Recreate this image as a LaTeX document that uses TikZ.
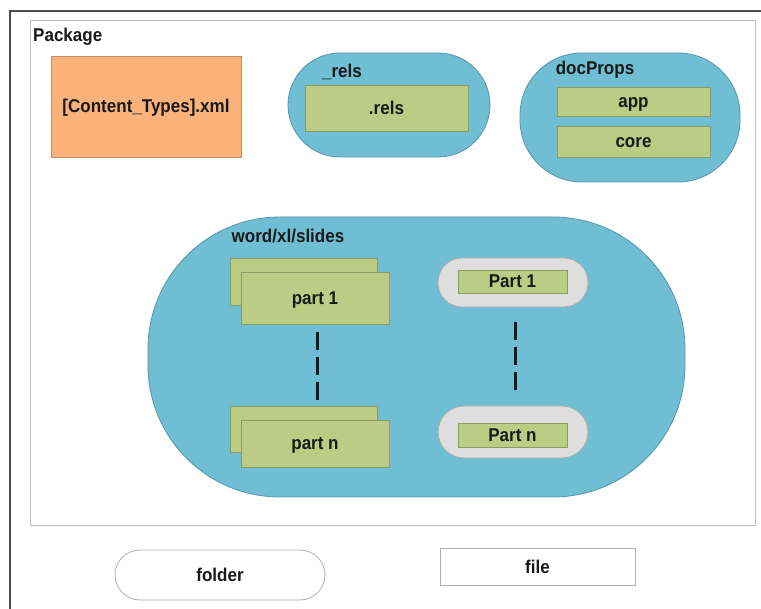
\documentclass[tikz,border=0pt]{standalone}
\usepackage{fontspec}
\setmainfont[FakeStretch=0.92]{Liberation Sans}
\definecolor{folderblue}{RGB}{112,190,211}
\definecolor{folderedge}{RGB}{84,150,170}
\definecolor{filegreen}{RGB}{187,204,133}
\definecolor{fileedge}{RGB}{140,156,96}
\definecolor{ctorange}{RGB}{248,178,122}
\definecolor{ctedge}{RGB}{200,140,95}
\definecolor{partgray}{RGB}{222,222,222}
\definecolor{partedge}{RGB}{170,170,170}
\definecolor{inktext}{RGB}{25,25,25}
\tikzset{
  box/.style={outer sep=0pt, inner sep=0pt, text=inktext, text height=13pt, text depth=0pt},
  folderbox/.style={box, draw=folderedge, fill=folderblue, line width=0.8pt},
  filebox/.style={box, draw=fileedge, fill=filegreen, line width=0.8pt},
  seqbox/.style={box, draw=partedge, fill=partgray, line width=0.8pt},
  legendbox/.style={box, draw=black!30, fill=white, line width=0.8pt},
  caption/.style={inner sep=0pt, text=inktext},
  dashline/.style={line width=3pt, black!90, dash pattern=on 18.5pt off 6.5pt}
}
\begin{document}
\begin{tikzpicture}[x=1pt, y=-1pt, font=\fontsize{18.5}{21}\selectfont\bfseries]
\useasboundingbox (0,0) rectangle (761,609);
\fill[white] (0,0) rectangle (761,609);
% outer frame
\draw[line width=2pt, black!70] (10,615) -- (10,11) -- (766,11);

% package area
\node[box, draw=black!25, line width=0.8pt, minimum width=725pt, minimum height=505pt, anchor=north west] (package) at (30,20) {};
\node[caption, anchor=west] (pkglabel) at (33,37) {Package};

% [Content_Types].xml
\node[box, draw=ctedge, fill=ctorange, line width=0.8pt, minimum width=190pt, minimum height=101pt] (ct) at (146,106.5) {[Content\_Types].xml};

% _rels folder
\node[folderbox, minimum width=202pt, minimum height=104pt, rounded corners=52pt] (rels) at (389,105) {};
\node[caption] (relslabel) at (342,72) {\_rels};
\node[filebox, minimum width=163pt, minimum height=46pt] (relsfile) at (386.5,108) {.rels};

% docProps folder
\node[folderbox, minimum width=220pt, minimum height=129pt, rounded corners=62pt] (docprops) at (630,117.5) {};
\node[caption] (docpropslabel) at (595,70) {docProps};
\node[filebox, minimum width=153pt, minimum height=29pt] (app) at (633.5,101.5) {app};
\node[filebox, minimum width=153pt, minimum height=31pt] (core) at (633.5,141.5) {core};

% word/xl/slides folder
\node[folderbox, minimum width=537pt, minimum height=280pt, rounded corners=132pt] (word) at (416.5,357) {};
\node[caption] (wordlabel) at (288,236) {word/xl/slides};

% stacked parts
\node[filebox, minimum width=147pt, minimum height=47pt] (p1back) at (303.5,281.5) {};
\node[filebox, minimum width=148pt, minimum height=52pt] (p1) at (315,298) {part 1};
\node[filebox, minimum width=147pt, minimum height=46pt] (pnback) at (303.5,429) {};
\node[filebox, minimum width=148pt, minimum height=47pt] (pn) at (315,443.5) {part n};
\draw[dashline, shorten <=8pt, shorten >=16pt] (p1.south -| 317,0) -- (pn.north -| 317,0);

% parts in sequence containers
\node[seqbox, minimum width=150pt, minimum height=49pt, rounded corners=24pt] (s1) at (513,282.5) {};
\node[filebox, minimum width=109pt, minimum height=23pt] (s1part) at (512.5,281.5) {Part 1};
\node[seqbox, minimum width=150pt, minimum height=52pt, rounded corners=26pt] (sn) at (513,432) {};
\node[filebox, minimum width=109pt, minimum height=24pt] (snpart) at (512.5,435) {Part n};
\draw[dashline, shorten <=15pt, shorten >=15pt] (s1.south -| 515,0) -- (sn.north -| 515,0);

% legend
\node[legendbox, minimum width=210pt, minimum height=50pt, rounded corners=25pt] (folderkey) at (220,575) {folder};
\node[legendbox, minimum width=195pt, minimum height=37pt] (filekey) at (537.5,566.5) {file};
\end{tikzpicture}
\end{document}
